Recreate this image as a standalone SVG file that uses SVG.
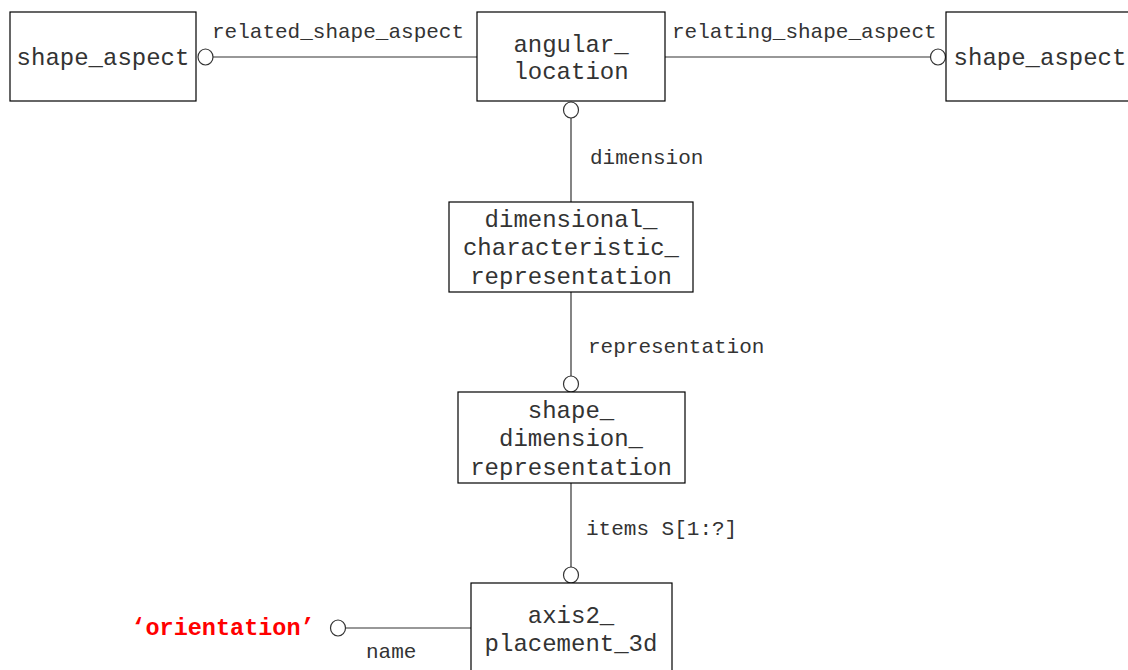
<svg xmlns="http://www.w3.org/2000/svg" width="1128" height="670" viewBox="0 0 1128 670">
<style>
.box{fill:#fff;stroke:#000;stroke-width:1.2}
.nt{font-family:"Liberation Mono","Courier New",monospace;font-size:24px;fill:#333;text-anchor:middle}
.lb{font-family:"Liberation Mono","Courier New",monospace;font-size:21px;fill:#333}
.ln{stroke:#333;stroke-width:1.2;fill:none}
.ci{fill:#fff;stroke:#333;stroke-width:1.2}
</style>
<rect width="1128" height="670" fill="#fff"/>
<g id="connectors">
<line class="ln" x1="213" y1="57" x2="477" y2="57"/>
<ellipse class="ci" cx="205.5" cy="57" rx="7.5" ry="8"/>
<line class="ln" x1="665" y1="57" x2="930" y2="57"/>
<ellipse class="ci" cx="938" cy="57" rx="7.5" ry="8"/>
<line class="ln" x1="571" y1="118" x2="571" y2="202"/>
<ellipse class="ci" cx="571" cy="110" rx="7.5" ry="8"/>
<line class="ln" x1="571" y1="292" x2="571" y2="376"/>
<ellipse class="ci" cx="571" cy="384" rx="7.5" ry="8"/>
<line class="ln" x1="571" y1="483" x2="571" y2="567"/>
<ellipse class="ci" cx="571" cy="575" rx="7.5" ry="8"/>
<line class="ln" x1="345" y1="628" x2="471" y2="628"/>
<ellipse class="ci" cx="338" cy="628" rx="7.5" ry="8"/>
<text class="lb" x="212" y="38">related_shape_aspect</text>
<text class="lb" x="672" y="38">relating_shape_aspect</text>
<text class="lb" x="590" y="164">dimension</text>
<text class="lb" x="588" y="353">representation</text>
<text class="lb" x="586" y="535">items S[1:?]</text>
<text class="lb" x="366" y="658">name</text>
</g>
<g id="n_shape_aspect_left">
<rect class="box" x="10" y="12" width="186" height="89"/>
<text class="nt" x="103" y="65">shape_aspect</text>
</g>
<g id="n_angular_location">
<rect class="box" x="477" y="12" width="188" height="89"/>
<text class="nt" x="571" y="52">angular_</text>
<text class="nt" x="571" y="79">location</text>
</g>
<g id="n_shape_aspect_right">
<rect class="box" x="946" y="12" width="190" height="89"/>
<text class="nt" x="1040" y="65">shape_aspect</text>
</g>
<g id="n_dcr">
<rect class="box" x="449" y="202" width="244" height="90"/>
<text class="nt" x="571" y="227">dimensional_</text>
<text class="nt" x="571" y="255">characteristic_</text>
<text class="nt" x="571" y="284">representation</text>
</g>
<g id="n_sdr">
<rect class="box" x="458" y="392" width="227" height="91"/>
<text class="nt" x="571" y="418">shape_</text>
<text class="nt" x="571" y="446">dimension_</text>
<text class="nt" x="571" y="475">representation</text>
</g>
<g id="n_axis2">
<rect class="box" x="471" y="583" width="201" height="100"/>
<text class="nt" x="571" y="623">axis2_</text>
<text class="nt" x="571" y="651">placement_3d</text>
</g>
<g id="n_orientation">
<text x="223" y="635" style="font-family:'Liberation Mono','Courier New',monospace;font-size:23.5px;font-weight:bold;fill:#f00;text-anchor:middle">‘orientation’</text>
</g>
</svg>
